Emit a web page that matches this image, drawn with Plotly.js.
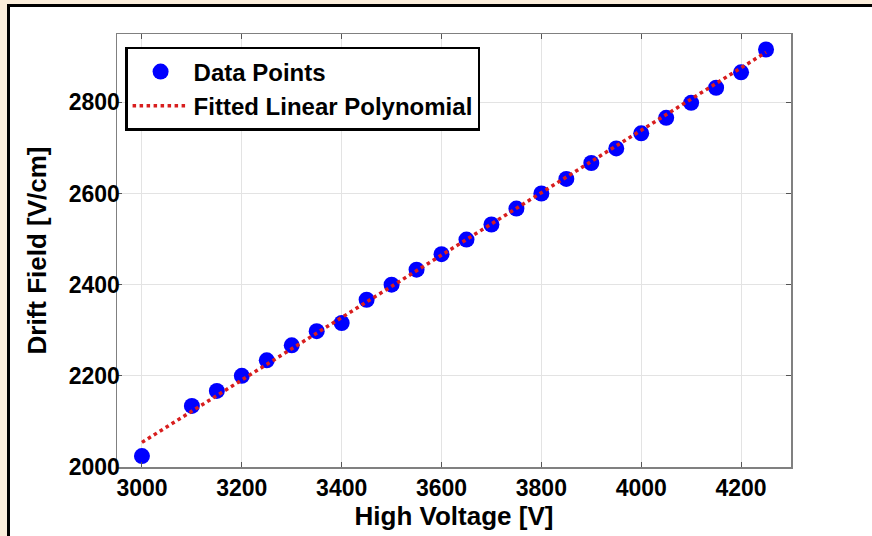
<!DOCTYPE html>
<html>
<head>
<meta charset="utf-8">
<script src="https://cdn.plot.ly/plotly-3.0.1.min.js"></script>
<style>
  html, body { margin: 0; padding: 0; }
  body { width: 872px; height: 536px; background: #FBEEDB; position: relative; overflow: hidden; }
  #frame { position: absolute; left: 7px; top: 4px; width: 900px; height: 600px; border: 3px solid #000; background: #fff; }
  #chart { position: absolute; left: 0; top: 0; width: 872px; height: 536px; }
</style>
</head>
<body>
<div id="frame"></div>
<div id="chart"></div>
<script>
// Data
const voltage = [3000, 3100, 3150, 3200, 3250, 3300, 3350, 3400, 3450, 3500, 3550, 3600, 3650,
                 3700, 3750, 3800, 3850, 3900, 3950, 4000, 4050, 4100, 4150, 4200, 4250];
const driftField = [2024, 2134, 2167, 2200, 2234, 2267, 2298, 2316, 2367, 2400, 2433, 2467, 2499,
                    2532, 2567, 2600, 2632, 2667, 2699, 2732, 2766, 2799, 2832, 2866, 2916];
// Fitted linear polynomial (end points)
const fitVoltage = [3000, 4250];
const fitField = [2054, 2910];

const xTicks = [3000, 3200, 3400, 3600, 3800, 4000, 4200];
const yTicks = [2000, 2200, 2400, 2600, 2800];

const sans = 'Liberation Sans, Arial, Helvetica, sans-serif';

const traces = [
  {
    x: voltage, y: driftField, type: 'scatter', mode: 'markers', name: 'Data Points',
    marker: { color: '#0000ff', size: 16 }
  },
  {
    x: fitVoltage, y: fitField, type: 'scatter', mode: 'lines', name: 'Fitted Linear Polynomial',
    line: { color: '#d81e1e', width: 3.5, dash: 'dot' }
  }
];

const axisCommon = {
  showline: true, linecolor: '#808080', linewidth: 1.5, mirror: 'ticks',
  ticks: 'inside', ticklen: 5, tickwidth: 1, tickcolor: '#555',
  showgrid: true, gridcolor: '#e3e3e3', gridwidth: 1, zeroline: false,
  tickfont: { family: sans, size: 23, color: '#000', weight: 'bold' }
};

const layout = {
  width: 872, height: 536,
  margin: { l: 117, r: 81, t: 34, b: 69 },
  paper_bgcolor: 'rgba(0,0,0,0)', plot_bgcolor: '#fff',
  showlegend: true,
  xaxis: Object.assign({}, axisCommon, {
    range: [2950, 4300], tickvals: xTicks, ticktext: xTicks.map(String),
    title: { text: 'High Voltage [V]', font: { family: sans, size: 26, color: '#000', weight: 'bold' }, standoff: 0 }
  }),
  yaxis: Object.assign({}, axisCommon, {
    range: [2000, 2950], tickvals: yTicks, ticktext: yTicks.map(String),
    ticklabelstandoff: -9,
    title: { text: 'Drift Field [V/cm]', font: { family: sans, size: 26, color: '#000', weight: 'bold' }, standoff: 14 }
  }),
  legend: {
    x: 0.012, y: 0.97, xanchor: 'left', yanchor: 'top',
    bgcolor: '#fff', bordercolor: '#000', borderwidth: 2.5,
    font: { family: sans, size: 24, color: '#000', weight: 'bold' },
    itemwidth: 56, tracegroupgap: 0
  }
};

Plotly.newPlot('chart', traces, layout, { displayModeBar: false, staticPlot: true });
</script>
</body>
</html>
